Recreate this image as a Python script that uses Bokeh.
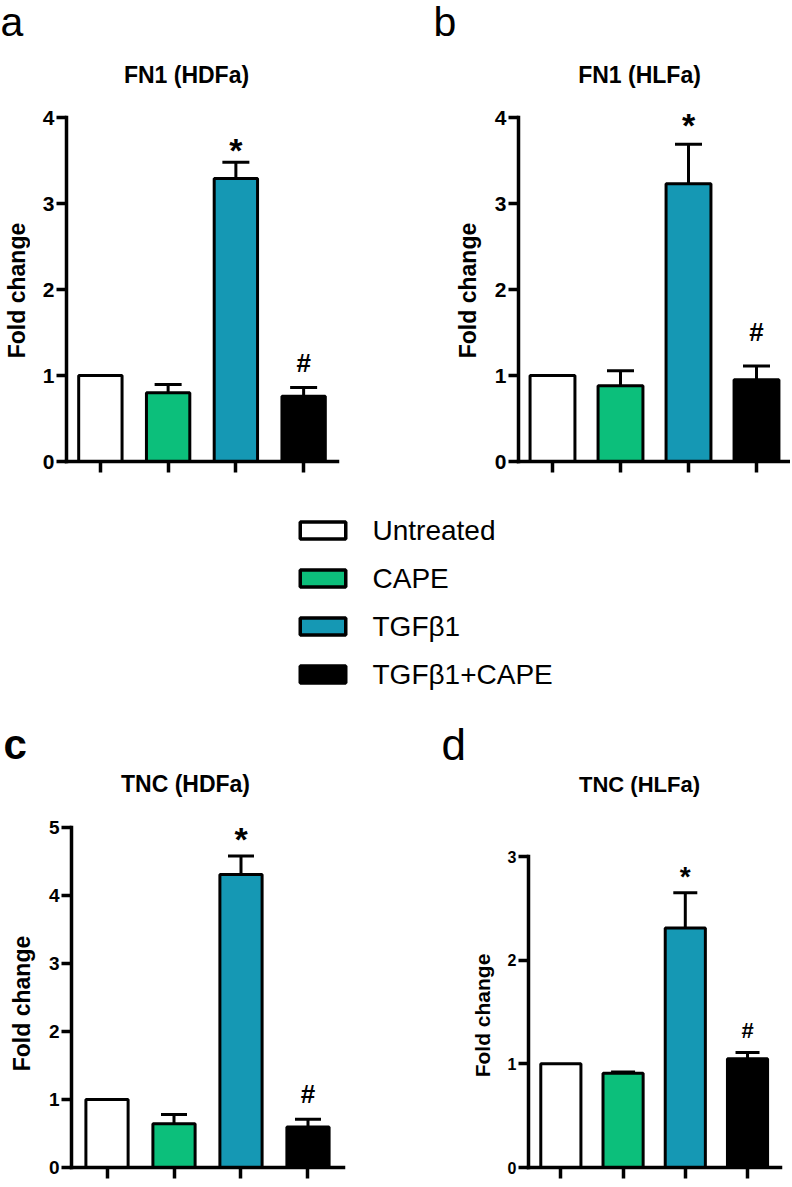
import math
from bokeh.plotting import figure
from bokeh.layouts import column, row
from bokeh.models import (ColumnDataSource, FixedTicker, Whisker, TeeHead, Label, Range1d)
from bokeh.core.properties import value
from bokeh.embed import file_html
from bokeh.resources import INLINE

# ---------------- data ----------------
groups = ["Untreated", "CAPE", "TGFβ1", "TGFβ1+CAPE"]
group_colors = ["#ffffff", "#0cbf7b", "#1598b4", "#000000"]
x_pos = [1, 2, 3, 4]
sig_star = ["", "", "*", ""]
sig_hash = ["", "", "", "#"]

fn1_hdfa_mean = [1.00, 0.80, 3.29, 0.76]
fn1_hdfa_err = [0.00, 0.095, 0.19, 0.10]
fn1_hlfa_mean = [1.00, 0.88, 3.23, 0.95]
fn1_hlfa_err = [0.00, 0.175, 0.46, 0.16]
tnc_hdfa_mean = [1.00, 0.645, 4.31, 0.595]
tnc_hdfa_err = [0.00, 0.135, 0.27, 0.115]
tnc_hlfa_mean = [1.00, 0.91, 2.31, 1.05]
tnc_hlfa_err = [0.00, 0.012, 0.34, 0.06]

titles = ["FN1 (HDFa)", "FN1 (HLFa)", "TNC (HDFa)", "TNC (HLFa)"]
letters = ["a", "b", "c", "d"]
y_maxes = [4, 4, 5, 3]
y_label = "Fold change"

FONT = "Liberation Sans"
BASE_FIX = 0.37      # alphabetic-baseline correction (fraction of font size)
ROT_FIX = 23         # along-text correction for the rotated axis titles (px)

# ---------------- style / layout (page pixel coordinates) ----------------
cfgs = [
    dict(ox=30, oy=44, W=414, H=440, fl=36, br=107, bb=23, axt=73, xr=(0.5, 4.5),
         bw=0.64, cap=27, tick_fs=21, t_x=186, t_y=83, t_fs=23,
         star_fs=34, star_off=0, hash_fs=26, hash_off=15),
    dict(ox=488, oy=44, W=302, H=440, fl=30, br=0, bb=23, axt=73, xr=(0.5, 4.5),
         bw=0.66, cap=27, tick_fs=21, t_x=639, t_y=83, t_fs=23,
         star_fs=34, star_off=7, hash_fs=26, hash_off=24),
    dict(ox=36, oy=770, W=414, H=416, fl=35, br=107, bb=19, axt=57, xr=(0.47, 4.53),
         bw=0.63, cap=26, tick_fs=19, t_x=185, t_y=792, t_fs=23,
         star_fs=34, star_off=4, hash_fs=26, hash_off=16),
    dict(ox=500, oy=770, W=290, H=416, fl=28, br=10, bb=19, axt=86, xr=(0.48, 4.53),
         bw=0.645, cap=24, tick_fs=16, t_x=639, t_y=792, t_fs=22,
         star_fs=28, star_off=6, hash_fs=22, hash_off=14),
]


def blank_fig(w, h):
    f = figure(width=w, height=h, x_range=Range1d(0, w), y_range=Range1d(h, 0),
               output_backend="svg", toolbar_location=None, title=None,
               x_axis_location=None, y_axis_location=None, min_border=0)
    f.grid.visible = False
    f.outline_line_color = None
    f.background_fill_color = "white"
    f.border_fill_color = "white"
    return f


def add_label(f, text, x, y, fs, style, align="left", angle=0.0, baseline="alphabetic"):
    # x, y: pixel position from the top-left of the figure's frame
    f.add_layout(Label(x=x, y=f.height - y, x_units="screen", y_units="screen",
                       text=text, text_font=FONT, text_font_size=f"{fs}px",
                       text_font_style=style, text_align=align,
                       text_baseline=baseline, angle=angle, text_color="black"))


def make_panel(title, means, errs, ymax, c):
    W, H, fl, br, bb = c["W"], c["H"], c["fl"], c["br"], c["bb"]
    fh = H - bb
    unit = (fh - c["axt"]) / ymax
    y_end = fh / unit
    p = figure(width=W, height=H, x_range=Range1d(*c["xr"]), y_range=Range1d(0, y_end),
               output_backend="svg", toolbar_location=None, title=None,
               min_border_left=fl, min_border_right=br, min_border_bottom=bb,
               min_border_top=0)
    p.outline_line_color = None
    p.grid.visible = False
    p.background_fill_color = "white"
    p.border_fill_color = "white"

    xa = p.xaxis[0]
    xa.ticker = FixedTicker(ticks=x_pos)
    xa.major_label_overrides = {v: "" for v in x_pos}
    xa.major_label_text_color = None
    xa.major_label_text_font_size = "1px"
    xa.major_label_standoff = 0
    xa.major_tick_out = 11
    xa.major_tick_in = 0
    xa.minor_tick_line_color = None
    xa.axis_line_width = 3.5
    xa.major_tick_line_width = 3.5
    xa.axis_line_cap = "square"

    ya = p.yaxis[0]
    ya.ticker = FixedTicker(ticks=list(range(ymax + 1)))
    ya.bounds = (0, ymax)
    ya.major_tick_out = 10
    ya.major_tick_in = 0
    ya.minor_tick_line_color = None
    ya.axis_line_width = 3.5
    ya.major_tick_line_width = 3.5
    ya.axis_line_cap = "square"
    ya.major_label_text_font = FONT
    ya.major_label_text_font_style = "bold"
    ya.major_label_text_font_size = f"{c['tick_fs']}px"
    ya.major_label_text_color = "black"
    ya.major_label_standoff = 2

    src = ColumnDataSource(dict(x=x_pos, top=means, color=group_colors))
    p.vbar(x="x", top="top", bottom=0, width=c["bw"], fill_color="color",
           line_color="black", line_width=3, source=src)

    idx = [i for i, e in enumerate(errs) if e > 0]
    wsrc = ColumnDataSource(dict(base=[x_pos[i] for i in idx],
                                 lower=[means[i] for i in idx],
                                 upper=[means[i] + errs[i] for i in idx]))
    w = Whisker(source=wsrc, base="base", lower="lower", upper="upper",
                dimension="height", line_width=3, line_color="black",
                lower_head=None,
                upper_head=TeeHead(size=c["cap"], line_width=3, line_color="black"))
    p.add_layout(w)

    for marks, fs, off in ((sig_star, c["star_fs"], c["star_off"]),
                           (sig_hash, c["hash_fs"], c["hash_off"])):
        k = [i for i, m in enumerate(marks) if m]
        msrc = ColumnDataSource(dict(x=[x_pos[i] for i in k],
                                     y=[means[i] + errs[i] for i in k],
                                     t=[marks[i] for i in k]))
        p.text(x="x", y="y", text="t", source=msrc, text_align="center",
               text_baseline="alphabetic", y_offset=-(off + BASE_FIX * fs),
               text_font=value(FONT), text_font_style="bold",
               text_font_size=f"{fs}px", text_color="black")

    tx = c["t_x"] - c["ox"] - fl
    ty = fh - (c["t_y"] - c["oy"] - BASE_FIX * c["t_fs"])
    p.add_layout(Label(x=tx, y=ty, x_units="screen", y_units="screen",
                       text=title, text_font=FONT, text_font_size=f"{c['t_fs']}px",
                       text_font_style="bold", text_align="center",
                       text_baseline="alphabetic", text_color="black"))
    return p


def ylabel_fig(ox, oy, w, h, cx, cy, fs):
    f = blank_fig(w, h)
    add_label(f, y_label, cx - ox, cy - oy + ROT_FIX, fs, "bold", align="center",
              angle=math.pi / 2, baseline="middle")
    return f


def letter(f, oy, text, x, y, fs, style):
    add_label(f, text, x, y - oy - BASE_FIX * fs, fs, style)


pa = make_panel(titles[0], fn1_hdfa_mean, fn1_hdfa_err, y_maxes[0], cfgs[0])
pb = make_panel(titles[1], fn1_hlfa_mean, fn1_hlfa_err, y_maxes[1], cfgs[1])
pc = make_panel(titles[2], tnc_hdfa_mean, tnc_hdfa_err, y_maxes[2], cfgs[2])
pd = make_panel(titles[3], tnc_hlfa_mean, tnc_hlfa_err, y_maxes[3], cfgs[3])

# panel letter strips
top_strip = blank_fig(790, 44)
letter(top_strip, 0, letters[0], 0, 37, 41, "normal")
letter(top_strip, 0, letters[1], 433, 37, 41, "normal")

bot_strip = blank_fig(790, 70)
letter(bot_strip, 700, letters[2], 3, 760, 42, "bold")
letter(bot_strip, 700, letters[3], 441, 760, 44, "normal")

# y-axis titles (page-coordinate centres)
yla = ylabel_fig(0, 44, 30, 440, 16.5, 290, 23)
ylb = ylabel_fig(444, 44, 44, 440, 467.5, 290, 23)
ylc = ylabel_fig(0, 770, 36, 416, 21, 999, 23)
yld = ylabel_fig(450, 770, 50, 416, 481.5, 1011, 21)

# ---------------- legend strip ----------------
lg = blank_fig(790, 216)
row_step = 48
leg_fs = 28
lsrc = ColumnDataSource(dict(
    y=[46 + row_step * i for i in range(len(groups))],
    ty=[56 - BASE_FIX * leg_fs + row_step * i for i in range(len(groups))],
    color=group_colors, label=groups))
lg.rect(x=322.5, y="y", width=45.5, height=17, fill_color="color", line_color="black",
        line_width=3.5, source=lsrc)
lg.text(x=372, y="ty", text="label", source=lsrc, text_font=value(FONT),
        text_font_size=f"{leg_fs}px", text_baseline="alphabetic", text_align="left",
        text_color="black")

layout = column(top_strip, row(yla, pa, ylb, pb), lg, bot_strip, row(ylc, pc, yld, pd))
open("out.html", "w").write(file_html(layout, INLINE))
